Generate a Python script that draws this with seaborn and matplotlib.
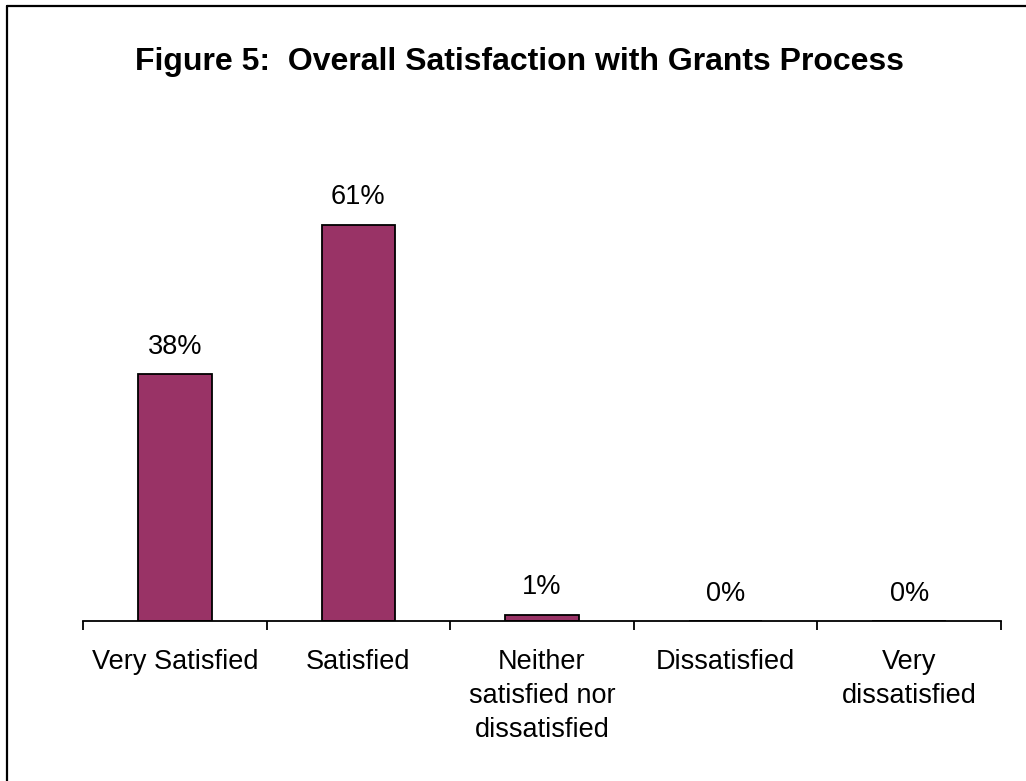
import matplotlib
matplotlib.use("Agg")
import matplotlib.pyplot as plt
from matplotlib.lines import Line2D
import seaborn as sns
import pandas as pd

categories = [
    "Very Satisfied",
    "Satisfied",
    "Neither\nsatisfied nor\ndissatisfied",
    "Dissatisfied",
    "Very\ndissatisfied",
]
percentages = [38, 61, 1, 0, 0]
title = "Figure 5:  Overall Satisfaction with Grants Process"

sns.set_style("white")
plt.rcParams["font.family"] = ["Liberation Sans", "DejaVu Sans"]
plt.rcParams["xtick.bottom"] = True

W, H = 1026, 781
fig = plt.figure(figsize=(W / 100, H / 100), dpi=100)
fig.patch.set_facecolor("white")

# plot area: baseline at y=621 px, x range 83..1001 px
left_px, right_px, base_px = 83, 1001, 621
ymax = 70
px_per_unit = 6.5
top_px = base_px - ymax * px_per_unit
ax = fig.add_axes([left_px / W, 1 - base_px / H,
                   (right_px - left_px) / W, (base_px - top_px) / H])

df = pd.DataFrame({"category": categories, "pct": percentages})
sns.barplot(data=df, x="category", y="pct", color="#993366", saturation=1,
            edgecolor="black", linewidth=1.3, width=0.4, ax=ax)

ax.set_xlim(-0.5, len(categories) - 0.5)
ax.set_ylim(0, ymax)
ax.set_xlabel("")
ax.set_ylabel("")
ax.set_yticks([])

for side in ["top", "left", "right"]:
    ax.spines[side].set_visible(False)
ax.spines["bottom"].set_linewidth(1.3)
ax.spines["bottom"].set_color("black")

# category labels at centres, tick marks at category boundaries
ax.set_xticks(range(len(categories)))
ax.set_xticklabels(categories, fontsize=19.5, linespacing=1.4)
ax.tick_params(axis="x", which="major", bottom=True, length=0, pad=20.5,
               colors="black")
ax.set_xticks([i - 0.5 for i in range(len(categories) + 1)], minor=True)
ax.tick_params(axis="x", which="minor", bottom=True, length=6.5, width=1.3,
               color="black", direction="out")

# value labels above each bar
for i, v in enumerate(percentages):
    ax.annotate(f"{v}%", xy=(i, v), xytext=(0, 14.4), textcoords="offset points",
                ha="center", va="baseline", fontsize=19.5, color="black")

fig.text(519.5 / W, 1 - 70 / H, title, ha="center", va="baseline",
         fontsize=23, fontweight="bold", color="black")

# frame lines along the top and left of the figure
bx, by = 7 / W, 1 - 6 / H
fig.add_artist(Line2D([bx, 1.0], [by, by], transform=fig.transFigure,
                      color="black", linewidth=1.6))
fig.add_artist(Line2D([bx, bx], [0.0, by], transform=fig.transFigure,
                      color="black", linewidth=1.6))

fig.savefig("out.png", dpi=100, facecolor="white")
